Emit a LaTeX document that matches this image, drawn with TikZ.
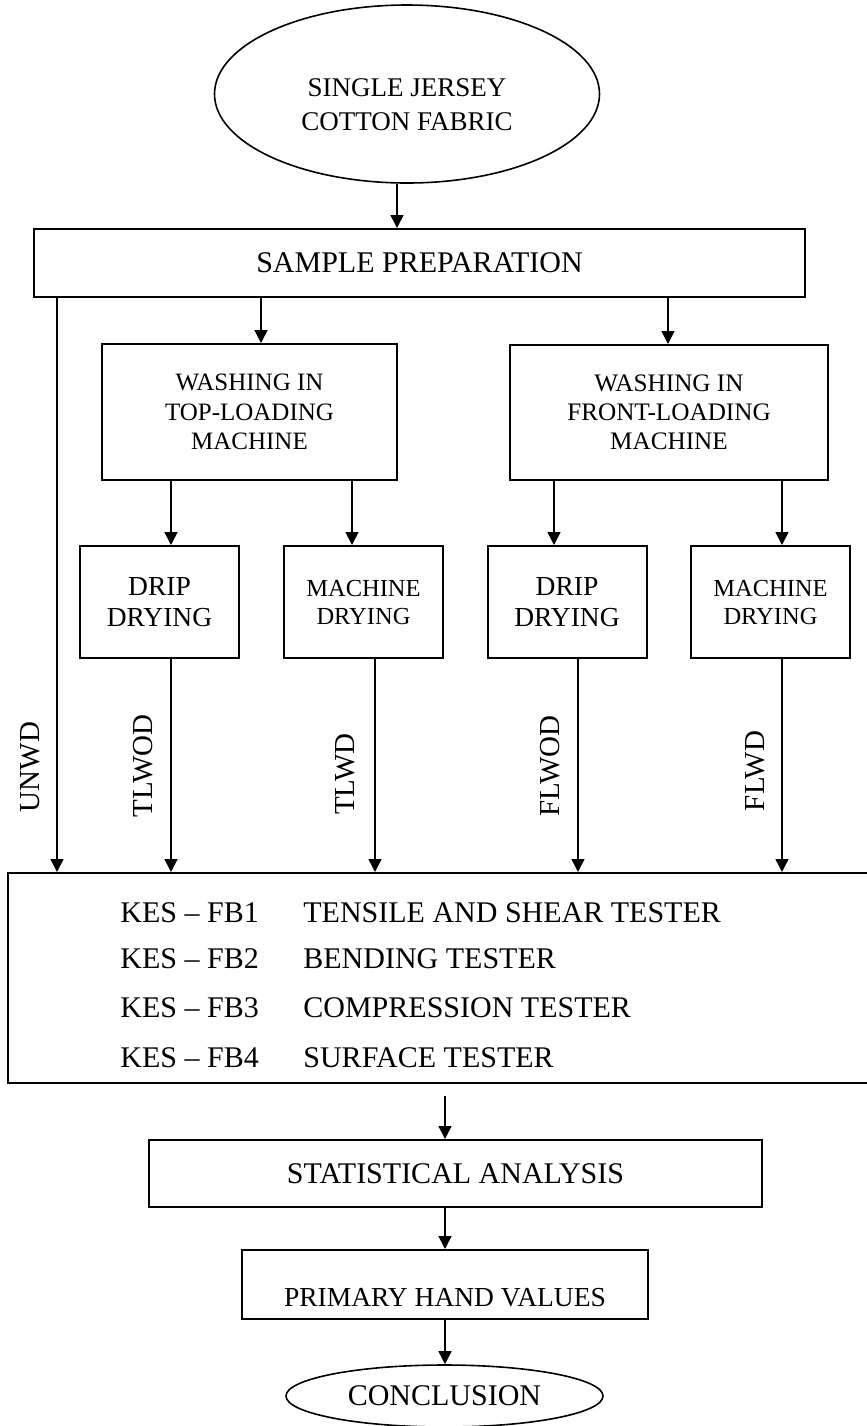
\documentclass[tikz,border=0pt]{standalone}
\usepackage{fontspec}
\setmainfont{Liberation Serif}
\usetikzlibrary{shapes.geometric,arrows.meta}

\tikzset{
  box/.style={draw, line width=1pt, inner sep=0pt, align=center},
  oval/.style={draw, ellipse, line width=0.8pt, inner sep=0pt, align=center},
  arr/.style={-{Triangle[width=6.5pt,length=6.5pt]}, line width=0.75pt},
  tag/.style={rotate=90, inner sep=0pt, font=\fontsize{14.5}{16}\selectfont},
  dryer/.style={box, minimum width=79.5pt, minimum height=56pt},
}

\begin{document}
\begin{tikzpicture}[x=0.5pt, y=-0.5pt]
    \useasboundingbox (0,0) rectangle (867,1426);

    % columns of the connectors
    \coordinate (xun) at (57,0);
    \coordinate (xdrip1) at (171,0);
    \coordinate (xtop) at (261,0);
    \coordinate (xmachin) at (352,0);
    \coordinate (xmach1) at (375,0);
    \coordinate (xfab) at (397,0);
    \coordinate (xmid) at (445,0);
    \coordinate (xdripin) at (554,0);
    \coordinate (xdrip2) at (578,0);
    \coordinate (xfront) at (668,0);
    \coordinate (xmach2) at (782,0);

    \node[oval, minimum width=192.5pt, minimum height=89pt] (fabric) at (407,94) {};
    \node[align=center, inner sep=0pt, font=\fontsize{13.5}{17}\selectfont]
          (fabrictext) at (407,105) {SINGLE JERSEY\\COTTON FABRIC};
    \node[box, minimum width=385.5pt, minimum height=34pt,
          font=\fontsize{15}{17}\selectfont] (prep) at (419.5,263)
          {SAMPLE PREPARATION};

    % washing
    \node[box, minimum width=147.5pt, minimum height=68pt,
          font=\fontsize{12.5}{14.75}\selectfont] (topw) at (249.5,412)
          {WASHING IN\\TOP-LOADING\\MACHINE};
    \node[box, minimum width=159pt, minimum height=67.5pt,
          font=\fontsize{12.6}{14.5}\selectfont] (frontw) at (669,412.5)
          {WASHING IN\\FRONT-LOADING\\MACHINE};

    % drying
    \node[dryer, font=\fontsize{13.75}{15.5}\selectfont] (drip1) at (159.5,602) {DRIP\\DRYING};
    \node[dryer, font=\fontsize{12.25}{14}\selectfont] (mach1) at (363.5,602) {MACHINE\\DRYING};
    \node[dryer, font=\fontsize{13.75}{15.5}\selectfont] (drip2) at (567,602) {DRIP\\DRYING};
    \node[dryer, font=\fontsize{12.25}{14}\selectfont] (mach2) at (770.5,602) {MACHINE\\DRYING};

    % testing
    \node[box, minimum width=432pt, minimum height=105pt] (kes) at (440,978) {};
    \foreach \n/\t/\y in {1/TENSILE AND SHEAR TESTER/913, 2/BENDING TESTER/959,
                          3/COMPRESSION TESTER/1008, 4/SURFACE TESTER/1058} {
        \node[anchor=west, inner sep=0pt, font=\fontsize{15}{17}\selectfont] (code\n) at (120,\y) {KES -- FB\n};
        \node[anchor=west, inner sep=0pt, font=\fontsize{15}{17}\selectfont] (test\n) at (303,\y) {\t};
    }

    \node[box, minimum width=306.5pt, minimum height=33.5pt,
          font=\fontsize{15}{17}\selectfont] (stat) at (455.5,1173.5)
          {STATISTICAL ANALYSIS};
    \node[box, minimum width=203pt, minimum height=34.5pt,
          text height=21.5pt, text depth=0pt,
          font=\fontsize{13.75}{16}\selectfont] (prim) at (445,1284.5)
          {PRIMARY HAND VALUES};
    \node[oval, minimum width=158.5pt, minimum height=31pt,
          font=\fontsize{15}{17}\selectfont] (concl) at (444.5,1396)
          {CONCLUSION};

    % labels
    \node[tag] (lun) at (30,767) {UNWD};
    \node[tag] (ltlwod) at (143,766) {TLWOD};
    \node[tag] (ltlwd) at (345,774) {TLWD};
    \node[tag] (lflwod) at (550,766) {FLWOD};
    \node[tag] (lflwd) at (755,771) {FLWD};

    % connectors
    \draw[arr] (fabric.south -| xfab) -- (prep.north -| xfab);
    \draw[arr] (prep.south -| xun) -- (kes.north -| xun);
    \draw[arr] (prep.south -| xtop) -- (topw.north -| xtop);
    \draw[arr] (prep.south -| xfront) -- (frontw.north -| xfront);
    \draw[arr] (topw.south -| xdrip1) -- (drip1.north -| xdrip1);
    \draw[arr] (topw.south -| xmachin) -- (mach1.north -| xmachin);
    \draw[arr] (frontw.south -| xdripin) -- (drip2.north -| xdripin);
    \draw[arr] (frontw.south -| xmach2) -- (mach2.north -| xmach2);
    \draw[arr] (drip1.south -| xdrip1) -- (kes.north -| xdrip1);
    \draw[arr] (mach1.south -| xmach1) -- (kes.north -| xmach1);
    \draw[arr] (drip2.south -| xdrip2) -- (kes.north -| xdrip2);
    \draw[arr] (mach2.south -| xmach2) -- (kes.north -| xmach2);
    \draw[arr, shorten <=6pt] (kes.south -| xmid) -- (stat.north -| xmid);
    \draw[arr] (stat.south -| xmid) -- (prim.north -| xmid);
    \draw[arr] (prim.south -| xmid) -- (concl.north -| xmid);
\end{tikzpicture}
\end{document}
